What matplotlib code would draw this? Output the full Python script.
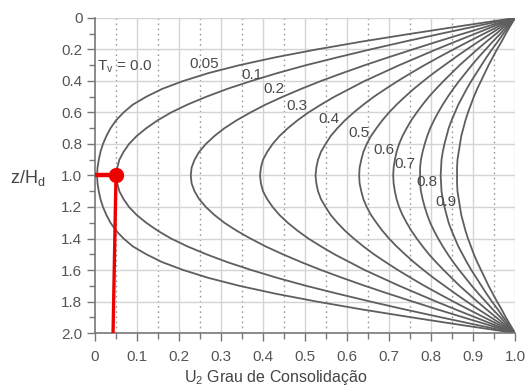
import numpy as np
import matplotlib.pyplot as plt
from matplotlib.ticker import MultipleLocator, FuncFormatter

plt.rcParams['font.family'] = ['Liberation Sans', 'DejaVu Sans']
plt.rcParams['mathtext.fontset'] = 'custom'
plt.rcParams['mathtext.rm'] = 'Liberation Sans'

# profundidade relativa z/Hd
z = [0.0, 0.05, 0.1, 0.15, 0.2, 0.25, 0.3, 0.35, 0.4, 0.45, 0.5,
     0.55, 0.6, 0.65, 0.7, 0.75, 0.8, 0.85, 0.9, 0.95, 1.0,
     1.05, 1.1, 1.15, 1.2, 1.25, 1.3, 1.35, 1.4, 1.45, 1.5,
     1.55, 1.6, 1.65, 1.7, 1.75, 1.8, 1.85, 1.9, 1.95, 2.0]

# grau de consolidacao Uz lido em cada isocrona (Tv = 0.05 ... 0.9)
u_005 = [1, 0.874, 0.752, 0.635, 0.527, 0.429, 0.343, 0.27, 0.21, 0.16, 0.122,
         0.09, 0.068, 0.05, 0.037, 0.027, 0.019, 0.013, 0.009, 0.006, 0.005,
         0.006, 0.009, 0.013, 0.019, 0.027, 0.037, 0.05, 0.068, 0.09, 0.122,
         0.16, 0.21, 0.27, 0.343, 0.429, 0.527, 0.635, 0.752, 0.874, 1]
u_01 = [1, 0.911, 0.823, 0.737, 0.655, 0.577, 0.502, 0.434, 0.372, 0.315, 0.265,
        0.220, 0.181, 0.149, 0.122, 0.099, 0.081, 0.068, 0.058, 0.053, 0.051,
        0.053, 0.058, 0.068, 0.081, 0.099, 0.122, 0.149, 0.181, 0.220, 0.265,
        0.315, 0.372, 0.434, 0.502, 0.577, 0.655, 0.737, 0.823, 0.911, 1]
u_02 = [1, 0.938, 0.876, 0.815, 0.756, 0.698, 0.642, 0.589, 0.538, 0.491, 0.447,
        0.406, 0.370, 0.337, 0.308, 0.284, 0.264, 0.248, 0.237, 0.230, 0.228,
        0.230, 0.237, 0.248, 0.264, 0.284, 0.308, 0.337, 0.370, 0.406, 0.447,
        0.491, 0.538, 0.589, 0.642, 0.698, 0.756, 0.815, 0.876, 0.938, 1]
u_03 = [1, 0.952, 0.905, 0.858, 0.812, 0.768, 0.724, 0.683, 0.642, 0.606, 0.570,
        0.538, 0.508, 0.482, 0.459, 0.439, 0.423, 0.410, 0.400, 0.395, 0.393,
        0.395, 0.400, 0.410, 0.423, 0.439, 0.459, 0.482, 0.508, 0.538, 0.570,
        0.606, 0.642, 0.683, 0.724, 0.768, 0.812, 0.858, 0.905, 0.952, 1]
u_04 = [1, 0.963, 0.926, 0.889, 0.853, 0.818, 0.784, 0.752, 0.721, 0.692, 0.664,
        0.639, 0.616, 0.595, 0.577, 0.561, 0.549, 0.538, 0.531, 0.527, 0.525,
        0.527, 0.531, 0.538, 0.549, 0.561, 0.577, 0.595, 0.616, 0.639, 0.664,
        0.692, 0.721, 0.752, 0.784, 0.818, 0.853, 0.889, 0.926, 0.963, 1]
u_05 = [1, 0.971, 0.942, 0.913, 0.885, 0.858, 0.832, 0.806, 0.782, 0.759, 0.738,
        0.718, 0.700, 0.684, 0.670, 0.657, 0.647, 0.639, 0.634, 0.630, 0.629,
        0.630, 0.634, 0.639, 0.647, 0.657, 0.670, 0.684, 0.700, 0.718, 0.738,
        0.759, 0.782, 0.806, 0.832, 0.858, 0.885, 0.913, 0.942, 0.971, 1]
u_06 = [1, 0.977, 0.955, 0.932, 0.910, 0.889, 0.868, 0.849, 0.830, 0.812, 0.795,
        0.780, 0.766, 0.753, 0.742, 0.732, 0.724, 0.718, 0.714, 0.711, 0.710,
        0.711, 0.714, 0.718, 0.724, 0.732, 0.742, 0.753, 0.766, 0.780, 0.795,
        0.812, 0.830, 0.849, 0.868, 0.889, 0.910, 0.932, 0.955, 0.977, 1]
u_07 = [1, 0.982, 0.965, 0.947, 0.930, 0.913, 0.897, 0.882, 0.867, 0.853, 0.840,
        0.828, 0.817, 0.807, 0.798, 0.791, 0.785, 0.780, 0.776, 0.774, 0.774,
        0.774, 0.776, 0.780, 0.785, 0.791, 0.798, 0.807, 0.817, 0.828, 0.840,
        0.853, 0.867, 0.882, 0.897, 0.913, 0.930, 0.947, 0.965, 0.982, 1]
u_08 = [1, 0.986, 0.972, 0.959, 0.945, 0.932, 0.920, 0.908, 0.896, 0.885, 0.875,
        0.865, 0.857, 0.849, 0.842, 0.837, 0.832, 0.828, 0.825, 0.824, 0.823,
        0.824, 0.825, 0.828, 0.832, 0.837, 0.842, 0.849, 0.857, 0.865, 0.875,
        0.885, 0.896, 0.908, 0.920, 0.932, 0.945, 0.959, 0.972, 0.986, 1]
u_09 = [1, 0.989, 0.978, 0.968, 0.957, 0.947, 0.937, 0.928, 0.919, 0.910, 0.902,
        0.895, 0.888, 0.882, 0.877, 0.872, 0.869, 0.866, 0.863, 0.862, 0.862,
        0.862, 0.863, 0.866, 0.869, 0.872, 0.877, 0.882, 0.888, 0.895, 0.902,
        0.910, 0.919, 0.928, 0.937, 0.947, 0.957, 0.968, 0.978, 0.989, 1]
curvas = [u_005, u_01, u_02, u_03, u_04, u_05, u_06, u_07, u_08, u_09]

# rotulos das curvas (texto, U, z)
rotulos = ['0.05', '0.1', '0.2', '0.3', '0.4', '0.5', '0.6', '0.7', '0.8', '0.9']
rot_u = [0.26, 0.374, 0.426, 0.481, 0.557, 0.629, 0.688, 0.738, 0.79, 0.836]
rot_z = [0.29, 0.36, 0.45, 0.56, 0.64, 0.73, 0.84, 0.93, 1.04, 1.17]

# marcacao vermelha do exemplo
red_h_u = [0.0, 0.05]
red_h_z = [1.0, 1.0]
red_v_u = [0.05, 0.043]
red_v_z = [1.0, 2.0]

fig = plt.figure(figsize=(5.26, 3.92), dpi=100)
ax = fig.add_axes([0.1806, 0.1505, 0.7985, 0.8036])

# grade
for xv in np.arange(0.1, 1.01, 0.1):
    ax.axvline(xv, color='#d4d4d4', lw=1.0, zorder=0)
for xv in np.arange(0.05, 1.0, 0.1):
    ax.axvline(xv, color='#9a9a9a', lw=1.0, ls=(0, (1.2, 2.5)), zorder=0)
for yv in np.arange(0.0, 1.99, 0.2):
    ax.axhline(yv, color='#d4d4d4', lw=1.0, zorder=0)

for u in curvas:
    ax.plot(u, z, color='#5e5e5e', lw=1.3, zorder=2)

ax.plot(red_v_u, red_v_z, color='#ee0000', lw=2.4, zorder=3, solid_capstyle='butt')
ax.plot(red_h_u, red_h_z, color='#ee0000', lw=3.2, zorder=3, solid_capstyle='butt')
ax.plot([red_h_u[1]], [red_h_z[1]], 'o', color='#ee0000', ms=10, zorder=4)

ax.text(0.005, 0.31, r'T$_\mathrm{v}$ = 0.0', fontsize=11, color='#4a4a4a', va='center', ha='left')
for t, uu, zz in zip(rotulos, rot_u, rot_z):
    ax.text(uu, zz, t, fontsize=11, color='#4a4a4a', va='center', ha='center')

ax.set_xlim(0, 1)
ax.set_ylim(2.0, 0)
ax.xaxis.set_major_locator(MultipleLocator(0.1))
ax.xaxis.set_minor_locator(MultipleLocator(0.05))
ax.yaxis.set_major_locator(MultipleLocator(0.2))
ax.yaxis.set_minor_locator(MultipleLocator(0.1))
fmt = FuncFormatter(lambda v, p: '0' if abs(v) < 1e-9 else '%.1f' % v)
ax.xaxis.set_major_formatter(fmt)
ax.yaxis.set_major_formatter(fmt)
ax.tick_params(which='major', length=6, width=1.0, color='#777777',
               labelcolor='#555555', labelsize=11)
ax.tick_params(which='minor', length=4, width=1.0, color='#777777')
ax.tick_params(axis='x', pad=6)
ax.tick_params(axis='y', pad=3)

for s in ['top', 'right']:
    ax.spines[s].set_visible(False)
for s in ['left', 'bottom']:
    ax.spines[s].set_color('#777777')
    ax.spines[s].set_linewidth(1.2)

fig.text(0.525, 0.036, r'U$_\mathrm{2}$ Grau de Consolidação', fontsize=11.5, color='#444444',
         ha='center', va='center')
fig.text(0.019, 0.546, r'z/H$_\mathrm{d}$', fontsize=13, color='#444444', ha='left', va='center')

fig.savefig('out.png', dpi=100)
